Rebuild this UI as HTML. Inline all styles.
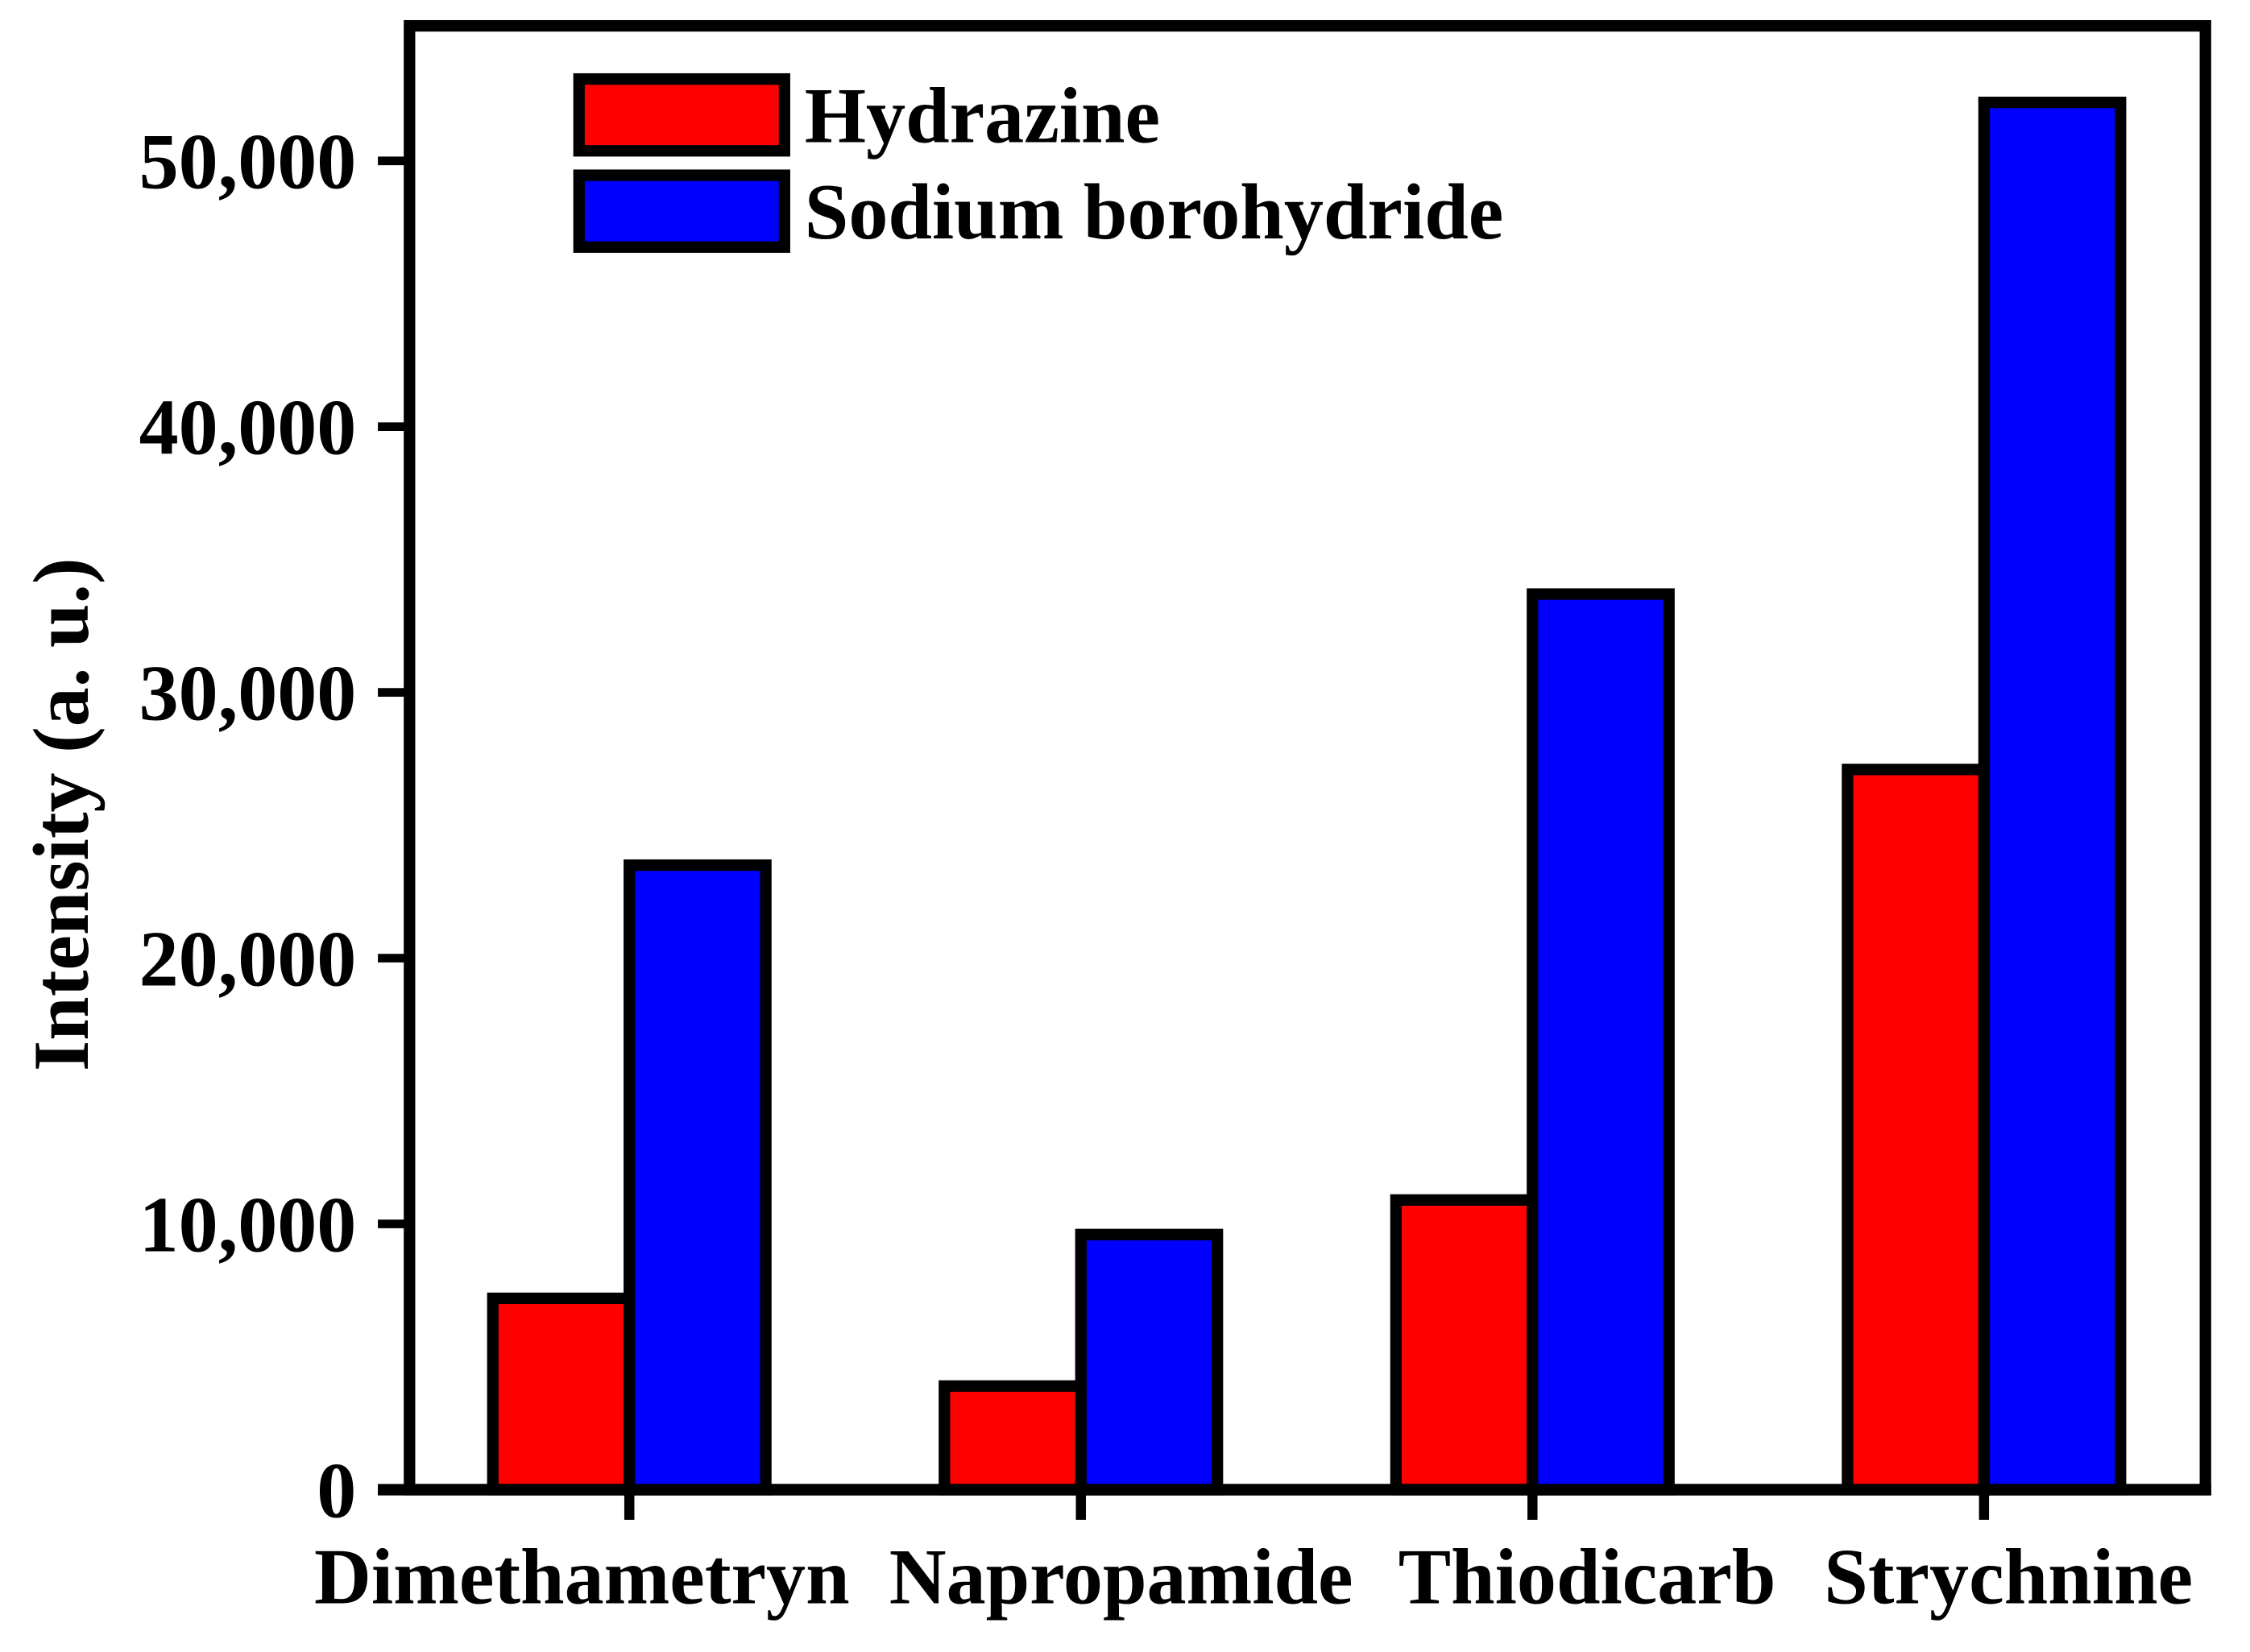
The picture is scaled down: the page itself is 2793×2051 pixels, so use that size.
<!DOCTYPE html>
<html><head><meta charset="utf-8"><style>
html,body{margin:0;padding:0;background:#fff;}
svg{display:block;}
text{font-family:"Liberation Serif",serif;font-weight:bold;fill:#000;}
</style></head><body>
<svg width="2793" height="2051" viewBox="0 0 1566 1150" xmlns="http://www.w3.org/2000/svg">
<g id="bars"></g>
<rect x="285" y="18" width="1250" height="1019" fill="none" stroke="#000" stroke-width="8"/>
<g id="axes"></g>
<text transform="translate(61,567) rotate(-90)" text-anchor="middle" font-size="55">Intensity (a. u.)</text>
<g>
<rect x="403" y="55" width="143" height="50" fill="#ff0000" stroke="#000" stroke-width="8"/>
<text x="560" y="99" font-size="55">Hydrazine</text>
<rect x="403" y="122" width="143" height="50" fill="#0000ff" stroke="#000" stroke-width="8"/>
<text x="560" y="166" font-size="55">Sodium borohydride</text>
</g>
</svg>
<script>
const categories = ["Dimethametryn","Napropamide","Thiodicarb","Strychnine"];
const hydrazine = [7200, 3900, 10900, 27100];
const borohydride = [23500, 9600, 33700, 52200];
const yTicks = [0, 10000, 20000, 30000, 40000, 50000];
const yTickLabels = ["0","10,000","20,000","30,000","40,000","50,000"];
const labelOffsets = [-33, 28, 38, 17];

const NS = "http://www.w3.org/2000/svg";
const y0 = 1037, pxPer = 185/10000;
function yScale(v){ return y0 - v*pxPer; }
function xCenter(i){ return 438 + i*314.3; }
const barW = 95;
function mk(tag, attrs, parent){
  const e = document.createElementNS(NS, tag);
  for (const k in attrs) e.setAttribute(k, attrs[k]);
  parent.appendChild(e); return e;
}
const bars = document.getElementById('bars');
categories.forEach((c,i)=>{
  const xc = xCenter(i);
  const r = mk('rect',{x:xc-barW,y:yScale(hydrazine[i]),width:barW,height:y0-yScale(hydrazine[i]),fill:'#ff0000',stroke:'#000','stroke-width':8},bars);
  
  
  const b = mk('rect',{x:xc,y:yScale(borohydride[i]),width:barW,height:y0-yScale(borohydride[i]),fill:'#0000ff',stroke:'#000','stroke-width':8},bars);
  
  
});
const axes = document.getElementById('axes');
const xl = mk('line',{x1:263,y1:y0,x2:1539,y2:y0,stroke:'#000','stroke-width':8},axes);


yTicks.forEach((v,i)=>{
  const y = yScale(v);
  const t = mk('line',{x1:263,y1:y,x2:285,y2:y,stroke:'#000','stroke-width':6},axes);
  
  
  const l = mk('text',{x:248,y:y+19,'text-anchor':'end','font-size':55},axes);
  l.textContent = yTickLabels[i];
  
  
});
categories.forEach((c,i)=>{
  const xc = xCenter(i);
  const t = mk('line',{x1:xc,y1:y0,x2:xc,y2:1058,stroke:'#000','stroke-width':7},axes);
  
  
  const l = mk('text',{x:xc+labelOffsets[i],y:1116,'text-anchor':'middle','font-size':55},axes);
  l.textContent = c;
  
  
});
</script>
</body></html>
